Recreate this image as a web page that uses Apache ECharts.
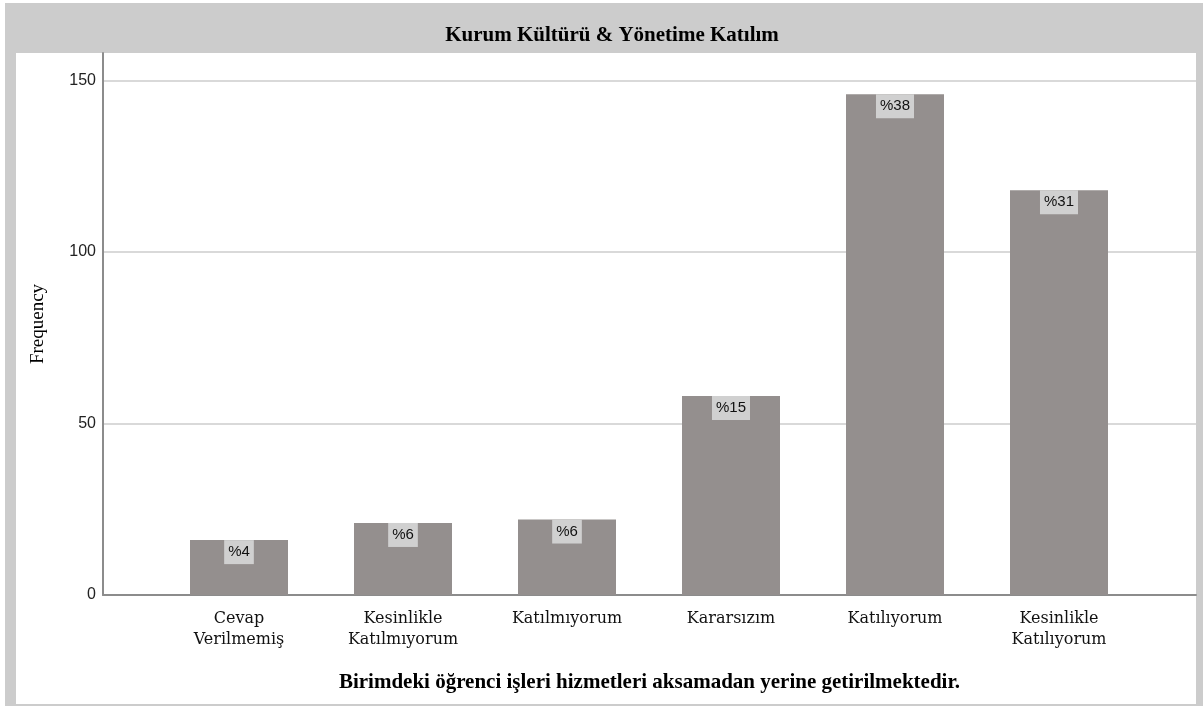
<!DOCTYPE html>
<html>
<head>
<meta charset="utf-8">
<script src="https://cdn.jsdelivr.net/npm/echarts@6/dist/echarts.min.js"></script>
<style>
  html, body { margin: 0; padding: 0; background: #ffffff; }
  #frame { position: absolute; left: 5px; top: 3px; width: 1198px; height: 703px; background: #cccccc; }
  #inner { position: absolute; left: 16px; top: 53px; width: 1180px; height: 651px; background: #ffffff; }
  #chart { position: absolute; left: 0; top: 0; width: 1203px; height: 706px; }
</style>
</head>
<body>
<div id="frame"></div>
<div id="inner"></div>
<div id="chart"></div>
<script>
const chartTitle = 'Kurum Kültürü & Yönetime Katılım';
const xTitle = 'Birimdeki öğrenci işleri hizmetleri aksamadan yerine getirilmektedir.';
const yTitle = 'Frequency';
const categories = ['Cevap\nVerilmemiş', 'Kesinlikle\nKatılmıyorum', 'Katılmıyorum', 'Kararsızım', 'Katılıyorum', 'Kesinlikle\nKatılıyorum'];
const frequencies = [16, 21, 22, 58, 146, 118];
const percentLabels = ['%4', '%6', '%6', '%15', '%38', '%31'];
const yTicks = [0, 50, 100, 150];

const chart = echarts.init(document.getElementById('chart'), null, { renderer: 'canvas' });
const gridTop = 53, gridBottom = 111, yMax = 158;

chart.setOption({
  backgroundColor: 'transparent',
  animation: false,
  title: {
    text: chartTitle,
    left: 607, top: 20, textAlign: 'center',
    textStyle: { fontFamily: 'Liberation Serif', fontWeight: 'bold', fontSize: 21, color: '#000' }
  },
  grid: [
    { left: 103, right: 7, top: gridTop, bottom: gridBottom, containLabel: false },
    { left: 157, width: 984, top: gridTop, bottom: gridBottom, containLabel: false }
  ],
  xAxis: [
    {
      gridIndex: 0, type: 'category', data: categories,
      axisLine: { show: true, lineStyle: { color: '#8c8c8c', width: 2 } },
      axisTick: { show: false }, axisLabel: { show: false }, splitLine: { show: false },
      name: xTitle, nameLocation: 'middle', nameGap: 77,
      nameTextStyle: { fontFamily: 'Liberation Serif', fontWeight: 'bold', fontSize: 21, color: '#000' }
    },
    {
      gridIndex: 1, type: 'category', data: categories,
      axisLine: { show: false }, axisTick: { show: false }, splitLine: { show: false },
      axisLabel: { interval: 0, margin: 13, fontFamily: 'DejaVu Serif', fontSize: 16, lineHeight: 21, color: '#111' }
    }
  ],
  yAxis: [
    {
      gridIndex: 0, type: 'value', min: 0, max: yMax, interval: 50,
      axisLine: { show: true, lineStyle: { color: '#8c8c8c', width: 2 } },
      axisTick: { show: false },
      axisLabel: {
        margin: 7, fontFamily: 'Liberation Sans', fontSize: 16, color: '#222', showMaxLabel: false,
        formatter: v => (yTicks.indexOf(v) >= 0 ? String(v) : '')
      },
      splitLine: { show: true, lineStyle: { color: ['#d9d9d9', '#d9d9d9', '#d9d9d9', '#d9d9d9', 'rgba(0,0,0,0)'], width: 2 } },
      name: yTitle, nameLocation: 'middle', nameGap: 55, nameRotate: 90,
      nameTextStyle: { fontFamily: 'Liberation Serif', fontSize: 19, color: '#000' }
    },
    {
      gridIndex: 1, type: 'value', min: 0, max: yMax, interval: 50, show: false,
      splitLine: { show: false }
    }
  ],
  series: [{
    type: 'bar', xAxisIndex: 1, yAxisIndex: 1,
    data: frequencies, barWidth: 98,
    itemStyle: { color: '#948f8e' },
    label: {
      show: true, position: 'insideTop', distance: 0,
      formatter: p => percentLabels[p.dataIndex],
      fontFamily: 'Liberation Sans', fontSize: 15, lineHeight: 16, color: '#111',
      backgroundColor: '#d0d0d0', padding: [4, 4, 4, 4]
    }
  }]
});
</script>
</body>
</html>
